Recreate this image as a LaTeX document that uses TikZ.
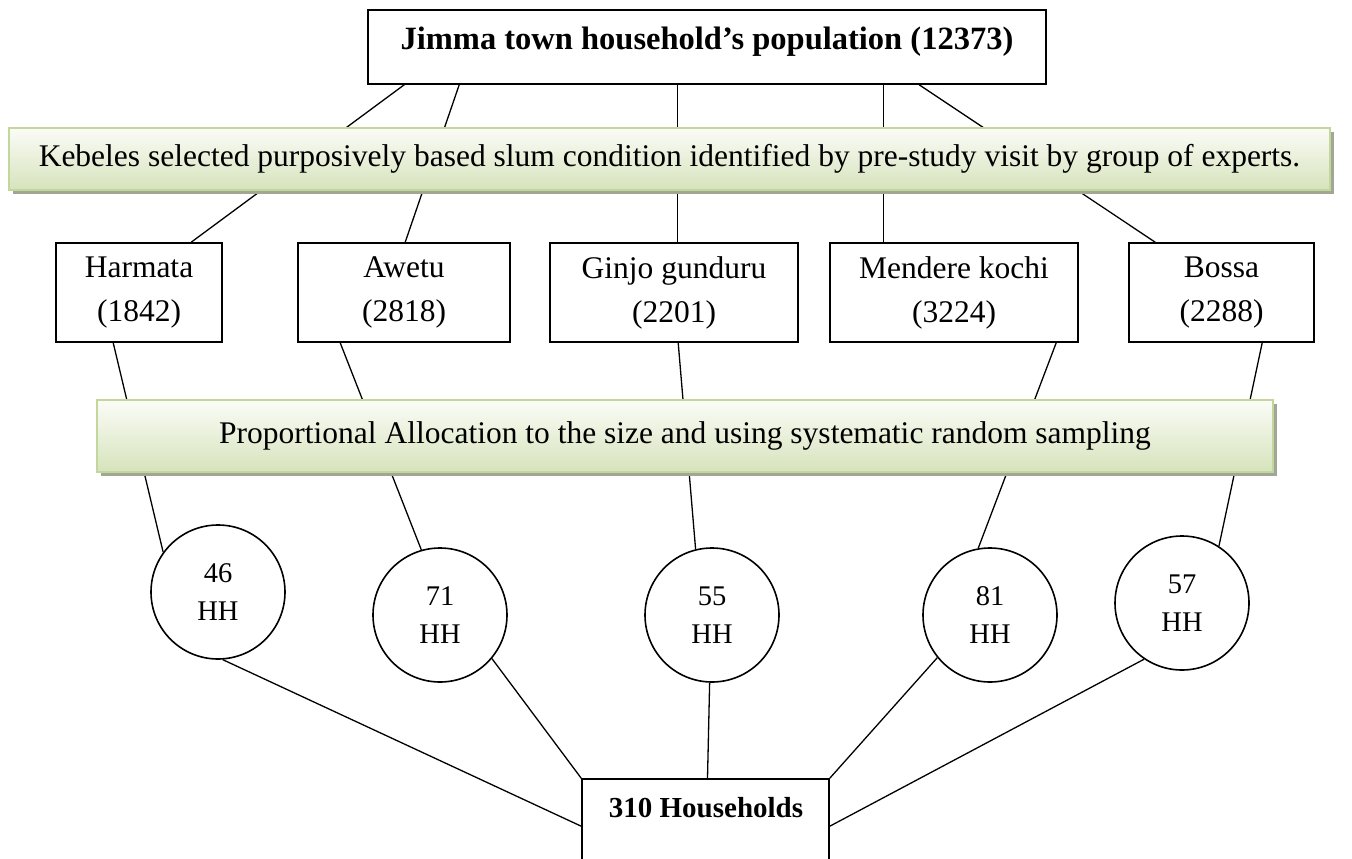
\documentclass[tikz,border=0pt]{standalone}
\usepackage{fontspec}
\setmainfont{Liberation Serif}
\usetikzlibrary{calc,shadows}
\definecolor{bannerborder}{HTML}{C3D69B}
\definecolor{bannertop}{HTML}{FBFCF7}
\definecolor{bannerbot}{HTML}{D6E3BC}
\definecolor{bannershadow}{HTML}{A2A795}
\tikzset{
  box/.style={draw=black, line width=1.6pt, fill=white, rectangle, inner sep=0pt},
  kebele/.style={box, align=center, font=\fontsize{31.5}{44}\selectfont, minimum height=99pt},
  circ/.style={draw=black, line width=1.6pt, fill=white, circle, inner sep=0pt, minimum size=134pt,
    align=center, font=\fontsize{28.5}{38}\selectfont},
  banner/.style={draw=bannerborder, line width=1.5pt, top color=bannertop, bottom color=bannerbot,
    rectangle, inner sep=0pt, font=\fontsize{31.5}{36}\selectfont,
    drop shadow={shadow xshift=4pt, shadow yshift=-4pt, fill=bannershadow, opacity=1}},
  conn/.style={draw=black, line width=1.3pt},
  boldtext/.style={anchor=base, inner sep=0pt, font=\bfseries\fontsize{32.5}{38}\selectfont}
}
\begin{document}
\begin{tikzpicture}[x=1pt, y=-1pt]
\useasboundingbox (0,0) rectangle (1352,859);
\fill[white] (0,0) rectangle (1352,859);

% boxes
\node[box, minimum width=678pt, minimum height=74pt] (top) at (707,47) {};
\node[boldtext] (toptext) at (707,49) {Jimma town household’s population (12373)};

\node[kebele, minimum width=166pt] (harm) at (139,292.5) {Harmata\\(1842)};
\node[kebele, minimum width=212pt] (awetu) at (404,292.5) {Awetu\\(2818)};
\node[kebele, minimum width=248pt] (ginjo) at (674,292.5) {Ginjo gunduru\\(2201)};
\node[kebele, minimum width=248pt] (mendere) at (954,292.5) {Mendere kochi\\(3224)};
\node[kebele, minimum width=185pt] (bossa) at (1221.5,292.5) {Bossa\\(2288)};

\node[circ] (c46) at (218,592) {46\\HH};
\node[circ] (c71) at (440,615) {71\\HH};
\node[circ] (c55) at (712,615) {55\\HH};
\node[circ] (c81) at (990,615) {81\\HH};
\node[circ] (c57) at (1182,603) {57\\HH};

\node[box, minimum width=247pt, minimum height=102pt] (hh) at (705.5,830) {};
\node[boldtext, font=\bfseries\fontsize{29}{34}\selectfont] (hhtext) at (706,817) {310 Households};

% connectors: top box to kebeles
\draw[conn] ([xshift=37pt]top.south west) -- ([xshift=136pt]harm.north west);
\draw[conn] ([xshift=92pt]top.south west) -- ([xshift=108pt]awetu.north west);
\draw[conn] ([xshift=310pt]top.south west) -- ([xshift=128pt]ginjo.north west);
\draw[conn] ([xshift=516pt]top.south west) -- ([xshift=54pt]mendere.north west);
\draw[conn] ([xshift=552pt]top.south west) -- ([xshift=27pt]bossa.north west);

% kebeles to circles
\draw[conn] ([xshift=58pt]harm.south west) -- (c46.144);
\draw[conn] ([xshift=43pt]awetu.south west) -- (c71.106);
\draw[conn] ([xshift=129pt]ginjo.south west) -- (c55.104);
\draw[conn] ([xshift=227pt]mendere.south west) -- (c81.100);
\draw[conn] ([xshift=134pt]bossa.south west) -- (c57.57);

% circles to households box
\draw[conn] (c46.-86) -- ([yshift=-48pt]hh.north west);
\draw[conn] (c71.-40) -- (hh.north west);
\draw[conn] (c55.-92) -- ([xshift=2pt]hh.north);
\draw[conn] (c81.-141) -- (hh.north east);
\draw[conn] (c57.-124) -- ([yshift=-48pt]hh.north east);

% banners (drawn over the connectors)
\node[banner, minimum width=1321pt, minimum height=62pt] (b1) at (669.5,159)
  {Kebeles selected purposively based slum condition identified by pre-study visit by group of experts.};
\node[banner, minimum width=1176pt, minimum height=72pt] (b2) at (685,436)
  {Proportional Allocation to the size and using systematic random sampling};
\end{tikzpicture}
\end{document}
